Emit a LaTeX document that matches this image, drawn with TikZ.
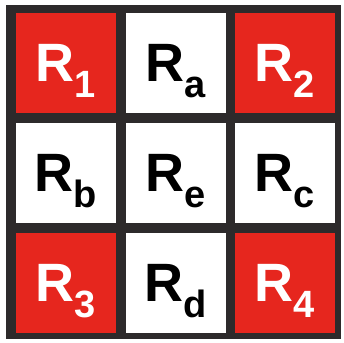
\documentclass[tikz,border=0pt]{standalone}
\usepackage{fontspec}
\setmainfont{Liberation Sans}
\usetikzlibrary{positioning}

\definecolor{cellred}{RGB}{230,38,30}
\definecolor{framegray}{RGB}{45,42,43}

% region label with lowered index
\newcommand{\regn}[1]{R\raisebox{-16pt}[0pt][0pt]{\fontsize{38}{38}\selectfont #1}}

\begin{document}
\begin{tikzpicture}[
    x=1pt, y=1pt,
    node distance=10pt and 9.5pt,
    cell/.style={
        rectangle,
        minimum width=100pt,
        minimum height=100pt,
        inner sep=0pt,
        outer sep=0pt,
        font=\fontsize{54}{60}\selectfont\bfseries
    },
    corner/.style={cell, fill=cellred, text=white},
    side/.style={cell, fill=white, text=black},
]
\useasboundingbox (0,0) rectangle (344,342);

% frame
\fill[framegray] (6,3) rectangle (341,337);

% nodes
\node[corner] (r1) at (66,279) {\regn{1}};
\node[side, right=of r1] (ra) {\regn{a}};
\node[corner, right=of ra] (r2) {\regn{2}};

\node[side, below=of r1] (rb) {\regn{b}};
\node[side, right=of rb] (re) {\regn{e}};
\node[side, right=of re] (rc) {\regn{c}};

\node[corner, below=of rb] (r3) {\regn{3}};
\node[side, right=of r3] (rd) {\regn{d}};
\node[corner, right=of rd] (r4) {\regn{4}};

\end{tikzpicture}
\end{document}
